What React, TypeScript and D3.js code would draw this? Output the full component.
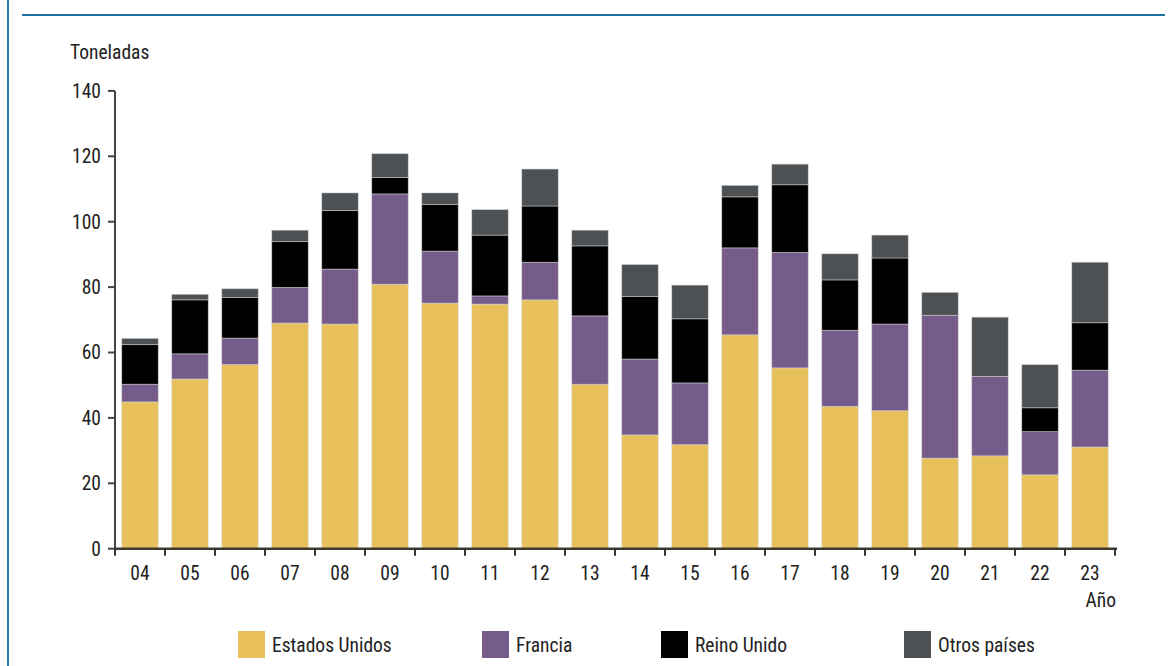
import React from "react";
import * as d3 from "d3";

const years = ["04","05","06","07","08","09","10","11","12","13","14","15","16","17","18","19","20","21","22","23"];
const estadosUnidos = [44.9,51.9,56.3,69.0,68.7,80.9,75.1,74.8,76.1,50.3,34.8,31.8,65.4,55.3,43.5,42.2,27.7,28.4,22.6,31.1];
const francia =       [5.4,7.7,8.1,10.9,16.8,27.6,15.9,2.5,11.5,20.9,23.2,18.9,26.6,35.3,23.3,26.5,43.7,24.3,13.2,23.5];
const reinoUnido =    [12.1,16.5,12.4,14.0,17.9,5.0,14.3,18.6,17.2,21.4,19.1,19.6,15.6,20.7,15.4,20.2,0,0,7.3,14.5];
const otrosPaises =   [1.9,1.7,2.7,3.5,5.4,7.3,3.5,7.8,11.3,4.8,9.8,10.3,3.5,6.3,8.0,7.0,7.0,18.1,13.2,18.5];
const seriesNames = ["Estados Unidos","Francia","Reino Unido","Otros países"];
const seriesColors = ["#E9C15C","#765C8A","#000000","#4D5154"];
const yTicks = [0,20,40,60,80,100,120,140];

const FONT = "'Liberation Sans Narrow', 'Arial Narrow', 'Roboto Condensed', Roboto, sans-serif";
const FS = 19.5;

export default function App() {
  const W = 1169, H = 666;
  const x = d3.scaleBand<string>().domain(years).range([115, 1115]).paddingInner(0.27).paddingOuter(0.135);
  const y = d3.scaleLinear().domain([0, 140]).range([548.7, 90.9]);
  const rows = years.map((yr, i) => ({
    year: yr,
    s0: estadosUnidos[i], s1: francia[i], s2: reinoUnido[i], s3: otrosPaises[i],
  }));
  const stack = d3.stack<any>().keys(["s0","s1","s2","s3"]);
  const layers = stack(rows);
  const bandStep = 50;
  const legendX = [238, 482, 661, 904];

  return (
    <svg width={W} height={H} style={{ position: "absolute", left: 0, top: 0, background: "#fff" }} fontFamily={FONT}>
      <line x1={8} x2={8} y1={0} y2={H} stroke="#2a7fb0" strokeWidth={2} />
      <line x1={22} x2={1165} y1={15} y2={15} stroke="#1f6f9f" strokeWidth={2} />
      <text x={70} y={59} fontSize={FS} fill="#222">Toneladas</text>

      {layers.map((layer, li) => (
        <g key={li}>
          {layer.map((d, i) => (
            d[1] - d[0] > 0 ? (
              <rect key={i} x={x(years[i])!} width={x.bandwidth()} y={y(d[1])} height={y(d[0]) - y(d[1])}
                fill={seriesColors[li]} stroke="#d8d8d8" strokeOpacity={0.6} strokeWidth={0.8} />
            ) : null
          ))}
        </g>
      ))}

      {/* Y axis */}
      <line x1={115} x2={115} y1={y(140)} y2={y(0)} stroke="#444" strokeWidth={2} />
      {yTicks.map(t => (
        <g key={t}>
          <line x1={108} x2={115} y1={y(t)} y2={y(t)} stroke="#444" strokeWidth={2} />
          <text x={101} y={y(t)} dy="0.35em" textAnchor="end" fontSize={FS} fill="#222">{t}</text>
        </g>
      ))}

      {/* X axis */}
      <line x1={114} x2={1117} y1={y(0)} y2={y(0)} stroke="#3d3a30" strokeWidth={2.5} />
      {d3.range(years.length + 1).map(k => (
        <line key={k} x1={115 + k * bandStep} x2={115 + k * bandStep} y1={y(0)} y2={y(0) + 7} stroke="#333" strokeWidth={2} />
      ))}
      {years.map(yr => (
        <text key={yr} x={x(yr)! + x.bandwidth() / 2} y={580} textAnchor="middle" fontSize={FS} fill="#222">{yr}</text>
      ))}
      <text x={1116} y={607} textAnchor="end" fontSize={FS} fill="#222">Año</text>

      {/* Legend */}
      {seriesNames.map((n, i) => (
        <g key={n}>
          <rect x={legendX[i]} y={631} width={27} height={27} fill={seriesColors[i]} />
          <text x={legendX[i] + 34} y={652} fontSize={FS} fill="#222">{n}</text>
        </g>
      ))}
    </svg>
  );
}
